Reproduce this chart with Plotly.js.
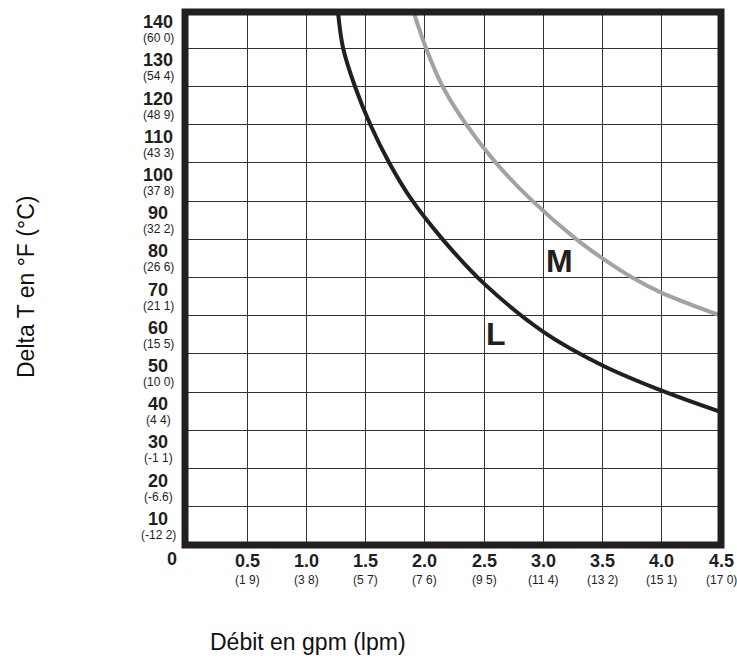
<!DOCTYPE html>
<html>
<head>
<meta charset="utf-8">
<script src="https://cdn.plot.ly/plotly-3.0.1.min.js"></script>
<style>html,body{margin:0;padding:0;background:#fff;}#chart{width:737px;height:658px;}</style>
</head>
<body>
<div id="chart"></div>
<script>
// Curve L (black)
const flowL  = [1.265, 1.31, 1.41, 1.54, 1.70, 1.89, 2.15, 2.5, 3.0, 3.5, 4.0, 4.5];
const deltaL = [140, 130, 120, 110, 100, 90.3, 80, 68.4, 55.8, 47.0, 40.4, 34.8];
// Curve M (gray)
const flowM  = [1.90, 2.01, 2.15, 2.35, 2.60, 2.91, 3.28, 3.5, 3.75, 4.0, 4.5];
const deltaM = [140, 130, 120, 110, 100, 90, 80, 75, 70, 66, 60];

// Tick labels
const yTicks  = [140, 130, 120, 110, 100, 90, 80, 70, 60, 50, 40, 30, 20, 10];
const yLabels = ["140","130","120","110","100","90","80","70","60","50","40","30","20","10"];
const yCelsius = ["(60 0)","(54 4)","(48 9)","(43 3)","(37 8)","(32 2)","(26 6)","(21 1)","(15 5)","(10 0)","(4 4)","(-1 1)","(-6.6)","(-12 2)"];
const xTicks  = [0.5, 1.0, 1.5, 2.0, 2.5, 3.0, 3.5, 4.0, 4.5];
const xLabels = ["0.5","1.0","1.5","2.0","2.5","3.0","3.5","4.0","4.5"];
const xLpm    = ["(1 9)","(3 8)","(5 7)","(7 6)","(9 5)","(11 4)","(13 2)","(15 1)","(17 0)"];

const curveNames = ["L", "M"];
const curveLabelPos = [[2.60, 55.2], [3.14, 74.4]];

const FONT = "Liberation Sans, Arial, Helvetica, sans-serif";
const INK = "#231f20";
const YMAX = 139.5;

const traces = [
  {x: flowL, y: deltaL, type: "scatter", mode: "lines", line: {color: INK, width: 4, shape: "spline", smoothing: 1}, hoverinfo: "skip"},
  {x: flowM, y: deltaM, type: "scatter", mode: "lines", line: {color: "#a2a2a2", width: 4, shape: "spline", smoothing: 1}, hoverinfo: "skip"}
];

const annotations = [];
const L = 185, W = 536;
const yLabX = (158 - L) / W;
yTicks.forEach((v, i) => {
  annotations.push({x: yLabX, xref: "paper", y: v / YMAX, yref: "paper", yshift: -12, text: yLabels[i], showarrow: false,
    xanchor: "center", yanchor: "middle", font: {family: FONT, size: 18, color: INK, weight: "bold"}});
  annotations.push({x: yLabX, xref: "paper", y: v / YMAX, yref: "paper", yshift: -28, text: yCelsius[i], showarrow: false,
    xanchor: "center", yanchor: "middle", font: {family: FONT, size: 12, color: INK}});
});
annotations.push({x: (172 - L) / W, xref: "paper", y: 0, yref: "paper", yshift: -14, text: "0", showarrow: false,
  xanchor: "center", yanchor: "middle", font: {family: FONT, size: 18, color: INK, weight: "bold"}});
xTicks.forEach((v, i) => {
  annotations.push({x: v, xref: "x", y: 0, yref: "paper", yshift: -16, text: xLabels[i], showarrow: false,
    xanchor: "center", yanchor: "middle", font: {family: FONT, size: 18, color: INK, weight: "bold"}});
  annotations.push({x: v, xref: "x", y: 0, yref: "paper", yshift: -35, text: xLpm[i], showarrow: false,
    xanchor: "center", yanchor: "middle", font: {family: FONT, size: 12, color: INK}});
});
curveNames.forEach((n, i) => {
  annotations.push({x: curveLabelPos[i][0], y: curveLabelPos[i][1], xref: "x", yref: "y", text: n, showarrow: false,
    xanchor: "center", yanchor: "middle", font: {family: FONT, size: 32, color: INK, weight: "bold"}});
});
// Axis titles
annotations.push({x: (308 - L) / W, xref: "paper", y: 0, yref: "paper", yshift: -97, text: "Débit en gpm (lpm)", showarrow: false,
  xanchor: "center", yanchor: "middle", font: {family: FONT, size: 23, color: "#111"}});
annotations.push({x: (26 - L) / W, xref: "paper", y: (545 - 287) / 533, yref: "paper", text: "Delta T en °F (°C)", showarrow: false,
  textangle: -90, xanchor: "center", yanchor: "middle", font: {family: FONT, size: 23, color: "#111"}});

const layout = {
  width: 737, height: 658,
  margin: {l: L, r: 737 - L - W, t: 12, b: 113, pad: 0},
  paper_bgcolor: "#fff", plot_bgcolor: "#fff",
  showlegend: false,
  xaxis: {range: [-0.025, 4.5], dtick: 0.5, tick0: 0, showgrid: true, gridcolor: "#333", gridwidth: 1,
    zeroline: false, showticklabels: false, ticks: "", showline: false, fixedrange: true},
  yaxis: {range: [0, YMAX], dtick: 10, tick0: 0, showgrid: true, gridcolor: "#333", gridwidth: 1,
    zeroline: false, showticklabels: false, ticks: "", showline: false, fixedrange: true},
  shapes: [{type: "rect", xref: "paper", yref: "paper", x0: 0, x1: 1, y0: 0, y1: 1,
    line: {color: INK, width: 7}, layer: "above"}],
  annotations: annotations
};

Plotly.newPlot("chart", traces, layout, {staticPlot: true, displayModeBar: false});
</script>
</body>
</html>
